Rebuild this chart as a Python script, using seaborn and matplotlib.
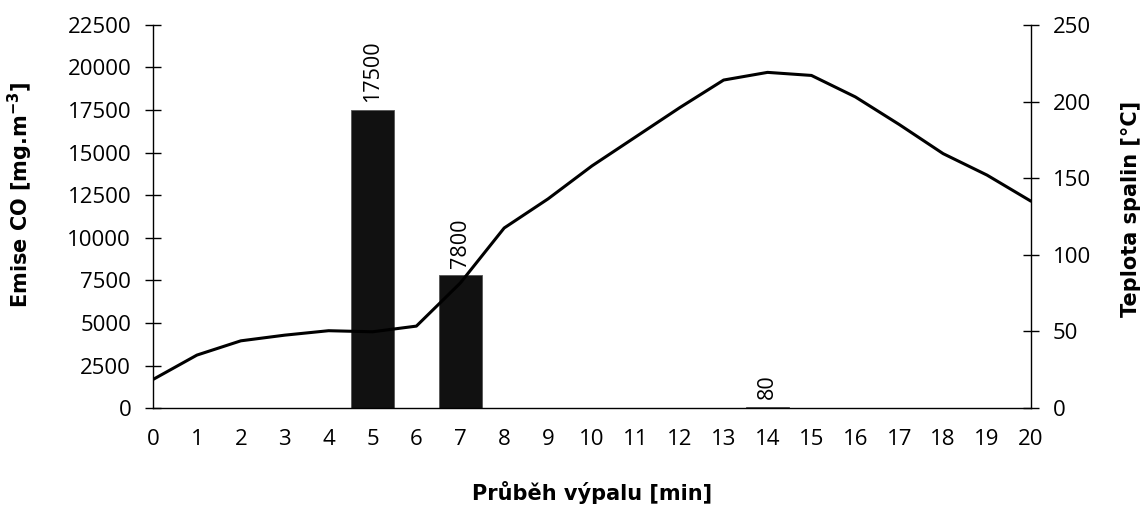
import matplotlib
matplotlib.use("Agg")
import matplotlib.pyplot as plt
import seaborn as sns
import pandas as pd

sns.set_theme(style="white")
plt.rcParams['font.family'] = ['DejaVu Sans']
plt.rcParams['text.color'] = 'black'
plt.rcParams['axes.labelcolor'] = 'black'
plt.rcParams['xtick.color'] = 'black'
plt.rcParams['ytick.color'] = 'black'

minutes = list(range(0, 21))
temperature = [18.7, 34.6, 43.9, 47.6, 50.5, 49.8, 53.5, 81.6, 117.5, 136.5, 158, 177,
               196, 214, 219, 217, 203, 185, 166, 152, 135]
bar_minutes = [5, 7, 14]
co_emission = [17500, 7800, 80]
bar_labels = ["17500", "7800", "80"]

TICKFONT = ['Open Sans', 'DejaVu Sans']

fig, ax = plt.subplots(figsize=(11.48, 5.07), dpi=100)
fig.subplots_adjust(left=0.1333, right=0.898, top=0.951, bottom=0.195)

ax.bar(bar_minutes, co_emission, width=0.98, color="#111111", edgecolor="#555555", linewidth=0.6, zorder=2)
for xm, v, lab in zip(bar_minutes, co_emission, bar_labels):
    ax.text(xm, v + 450, lab, rotation=90, ha="center", va="bottom", fontsize=15.5,
            family=TICKFONT, color="black")

ax.set_xlim(0, 20)
ax.set_ylim(0, 22500)
ax.set_xticks(minutes)
ax.set_yticks(range(0, 22501, 2500))
ax.set_xlabel("Průběh výpalu [min]", fontsize=15, fontweight="bold")
ax.set_ylabel("Emise CO [mg.m$^{\\mathregular{-3}}$]", fontsize=15, fontweight="bold")
ax.xaxis.set_label_coords(0.5, -0.19)
ax.yaxis.set_label_coords(-0.135, 0.556)

ax2 = ax.twinx()
df = pd.DataFrame({"min": minutes, "temp": temperature})
sns.lineplot(data=df, x="min", y="temp", ax=ax2, color="black", linewidth=2.2, zorder=3)
ax2.set_ylim(0, 250)
ax2.set_yticks(range(0, 251, 50))
ax2.set_ylabel("Teplota spalin [°C]", fontsize=15, fontweight="bold")
ax2.yaxis.set_label_coords(1.1025, 0.52)
ax2.set_xlabel("")
ax2.set_xlim(0, 20)

for a in (ax, ax2):
    a.spines["top"].set_visible(False)
    for s in ("left", "right", "bottom"):
        a.spines[s].set_color("black")
        a.spines[s].set_linewidth(1.0)
ax.spines["right"].set_visible(False)
ax2.spines["left"].set_visible(False)
ax2.spines["bottom"].set_visible(False)

ax.tick_params(axis="x", direction="inout", length=11.5, width=1, color="black", labelsize=16, pad=9)
ax.tick_params(axis="y", direction="inout", length=11.5, width=1, color="black", labelsize=16, pad=10)
ax2.tick_params(axis="y", direction="inout", length=11.5, width=1, color="black", labelsize=16, pad=10, right=True)
for lab in ax.get_xticklabels() + ax.get_yticklabels() + ax2.get_yticklabels():
    lab.set_family(TICKFONT)

fig.savefig("out.png", dpi=100, facecolor="white")
